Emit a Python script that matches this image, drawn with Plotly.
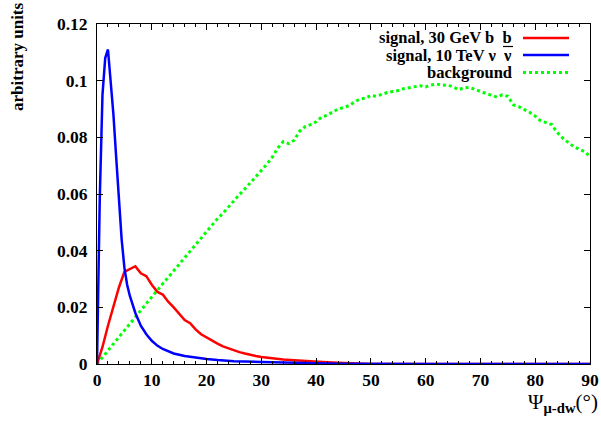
import plotly.graph_objects as go

# ---- data ----
bg_x = list(range(0, 91))
bg_y = [0, 0.0024, 0.0048, 0.0071, 0.0095, 0.012, 0.0143, 0.0166, 0.019, 0.0213,
        0.0237, 0.026, 0.0283, 0.0306, 0.033, 0.0352, 0.0375, 0.0398, 0.042, 0.0443,
        0.0468, 0.049, 0.0513, 0.0532, 0.0555, 0.0575, 0.0598, 0.0618, 0.064, 0.066,
        0.0685, 0.0705, 0.073, 0.0762, 0.0785, 0.0778, 0.079, 0.0822, 0.0838, 0.0845,
        0.0855, 0.0872, 0.0878, 0.0888, 0.09, 0.0905, 0.0912, 0.0925, 0.0935, 0.0938,
        0.0948, 0.0945, 0.0952, 0.0958, 0.0962, 0.0965, 0.0972, 0.0975, 0.0978, 0.0982,
        0.0978, 0.0985, 0.0988, 0.0984, 0.0985, 0.0978, 0.0968, 0.0975, 0.0976, 0.0968,
        0.0962, 0.0955, 0.0948, 0.0942, 0.095, 0.0945, 0.0915, 0.0908, 0.0898, 0.0888,
        0.0875, 0.0858, 0.0852, 0.0845, 0.0818, 0.0798, 0.0782, 0.0768, 0.0758, 0.075,
        0.0732]

nu_x = [0, 0.5, 1, 1.5, 2, 2.5, 3, 3.5, 4, 4.5, 5, 5.5, 6, 7, 8, 9, 10, 11, 12, 14,
        16, 18, 20, 22, 25, 30, 35, 40, 45, 50, 60, 70, 80, 90]
nu_y = [0, 0.058, 0.095, 0.108, 0.111, 0.1, 0.088, 0.073, 0.058, 0.044, 0.034, 0.028,
        0.024, 0.018, 0.0135, 0.0105, 0.0082, 0.0065, 0.0053, 0.0037, 0.0028, 0.0022,
        0.0018, 0.0014, 0.001, 0.0007, 0.0004, 0.0003, 0.0001, 0, 0, 0, 0, 0]

bb_x = [0, 1, 2, 3, 4, 5, 6, 7, 8, 9, 10, 11, 12, 13, 14, 15, 16, 17, 18, 19, 20,
        21, 22, 23, 24, 25, 26, 27, 28, 29, 30, 32, 34, 36, 38, 40, 42, 44, 46, 48,
        50, 60, 70, 80, 90]
bb_y = [0, 0.006, 0.0135, 0.02, 0.027, 0.0325, 0.0335, 0.0345, 0.032, 0.031, 0.028,
        0.0255, 0.0245, 0.022, 0.02, 0.0178, 0.0155, 0.0144, 0.0122, 0.0105, 0.0093,
        0.0082, 0.0072, 0.0062, 0.0055, 0.0048, 0.0042, 0.0037, 0.0032, 0.0028, 0.0025,
        0.002, 0.0016, 0.0013, 0.001, 0.0008, 0.0006, 0.0004, 0.0002, 0.0001,
        0, 0, 0, 0, 0]

legend_names = ["signal, 30 GeV b  b", "signal, 10 TeV ν  ν", "background"]
colors = ["#ff0000", "#0000ff", "#00ff00"]

FONT = "Liberation Serif"
W, H = 601, 423
ML, MR, MT, MB = 97, 11, 24, 59

fig = go.Figure()
fig.add_trace(go.Scatter(x=bg_x, y=bg_y, mode="lines",
                         line=dict(color=colors[2], width=3, dash="dot"), showlegend=False))
fig.add_trace(go.Scatter(x=bb_x, y=bb_y, mode="lines",
                         line=dict(color=colors[0], width=2.5), showlegend=False))
fig.add_trace(go.Scatter(x=nu_x, y=nu_y, mode="lines",
                         line=dict(color=colors[1], width=2.5), showlegend=False))

axis_common = dict(showline=True, linecolor="black", linewidth=1, mirror="ticks",
                   ticks="inside", ticklen=6, tickcolor="black", showgrid=False,
                   zeroline=False, automargin=False,
                   tickfont=dict(family=FONT, size=17.5, color="black", weight="bold"))

fig.update_xaxes(range=[0, 90], dtick=10, tick0=0,
                 minor=dict(ticks="inside", dtick=2, ticklen=3, tickcolor="black"),
                 **axis_common)
fig.update_yaxes(range=[0, 0.12], dtick=0.02, tick0=0, ticklabelstandoff=5, **axis_common)

pw = W - ML - MR
ph = H - MT - MB
def px(xp):
    return (xp - ML) / pw
def py(yp):
    return (H - MB - yp) / ph

row_y = [38, 55, 72.5]
anns = []
shapes = []
for i, (name, col, yy) in enumerate(zip(legend_names, colors, row_y)):
    anns.append(dict(x=px(514), y=py(yy), xref="paper", yref="paper",
                     text="<b>%s</b>" % name, showarrow=False,
                     xanchor="right", yanchor="middle",
                     font=dict(family=FONT, size=16.5, color="black")))
    shapes.append(dict(type="line", xref="paper", yref="paper",
                       x0=px(523), x1=px(569), y0=py(yy), y1=py(yy),
                       line=dict(color=col, width=3 if i == 2 else 2.5,
                                 dash="dot" if i == 2 else "solid")))

# overline bar (drawn between the first two legend rows, as in the original)
shapes.append(dict(type="line", xref="paper", yref="paper",
                   x0=px(503), x1=px(513), y0=py(46.5), y1=py(46.5),
                   line=dict(color="black", width=1.2)))

anns.append(dict(x=px(18), y=py(57), xref="paper", yref="paper",
                 text="<b>arbitrary units</b>", textangle=-90, showarrow=False,
                 xanchor="center", yanchor="middle",
                 font=dict(family=FONT, size=17, color="black")))
anns.append(dict(x=px(600), y=py(403), xref="paper", yref="paper",
                 text="Ψ<sub><b>μ-dw</b></sub>(°)", showarrow=False,
                 xanchor="right", yanchor="middle",
                 font=dict(family=FONT, size=21, color="black")))

fig.update_layout(
    width=W, height=H, autosize=False,
    margin=dict(l=ML, r=MR, t=MT, b=MB, autoexpand=False),
    paper_bgcolor="white", plot_bgcolor="white",
    font=dict(family=FONT, color="black"),
    annotations=anns, shapes=shapes,
)

fig.write_html("out.html", include_plotlyjs=True,
               config={"displayModeBar": False, "responsive": False},
               post_script="document.documentElement.style.overflow='hidden';document.body.style.margin='0';document.body.style.overflow='hidden';")
html = open("out.html", encoding="utf-8").read()
html = html.replace("<head>", "<head><style>html,body{margin:0;padding:0;overflow:hidden;}</style>", 1)
with open("out.html", "w", encoding="utf-8") as f:
    f.write(html)
